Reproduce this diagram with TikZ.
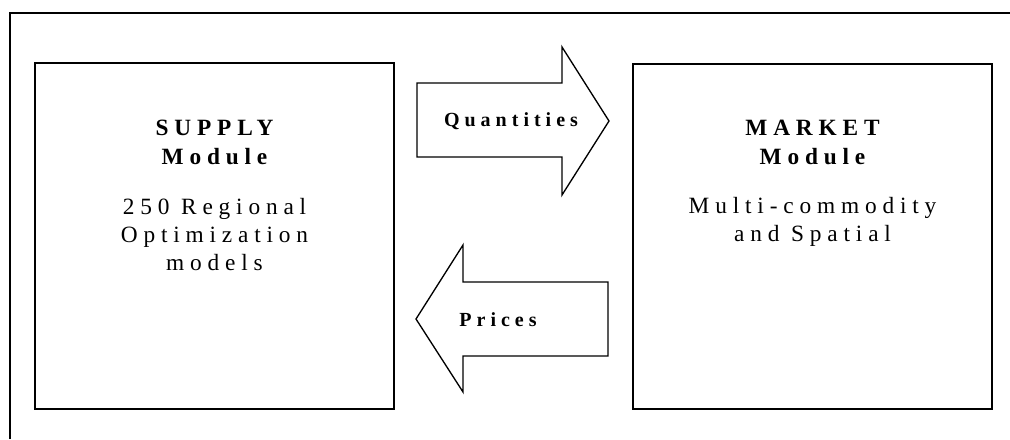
\documentclass[tikz,border=0pt]{standalone}
\usepackage{fontspec}
\setmainfont{Liberation Serif}[LetterSpace=25]
\begin{document}
\begin{tikzpicture}[x=0.75pt,y=-0.75pt,
  box/.style={draw, line width=1.4pt, rectangle, inner sep=0pt},
  arrowshape/.style={draw, line width=1pt, line join=miter},
  headtxt/.style={font=\bfseries\fontsize{17.5}{21.75}\selectfont, align=center, inner sep=0pt},
  bodytxt/.style={font=\fontsize{17.5}{21}\selectfont, align=center, inner sep=0pt},
  labtxt/.style={font=\bfseries\fontsize{15}{18}\selectfont, inner sep=0pt}]
\useasboundingbox (0,0) rectangle (1010,439);
\draw[line width=1.4pt] (10,439) -- (10,13) -- (1010,13);
% boxes
\node[box, minimum width=269.25pt, minimum height=259.5pt] (supply) at (214.5,236) {};
\node[box, minimum width=269.25pt, minimum height=258.75pt] (market) at (812.5,236.5) {};
% texts
\node[headtxt] (supplytitle) at (214.5,142.5) {SUPPLY\\Module};
\node[bodytxt] (supplybody) at (214.5,235) {250 Regional\\Optimization\\models};
\node[headtxt] (markettitle) at (812.5,142.5) {MARKET\\Module};
\node[bodytxt] (marketbody) at (812.5,221.5) {Multi-commodity\\and Spatial};
% arrows
\draw[arrowshape] (417,83) -- (562,83) -- (562,47) -- (609,121) -- (562,195) -- (562,157) -- (417,157) -- cycle;
\draw[arrowshape] (608,282) -- (463,282) -- (463,245) -- (416,319) -- (463,392) -- (463,356) -- (608,356) -- cycle;
\node[labtxt] (quantities) at (511,121) {Quantities};
\node[labtxt] (prices) at (498,320) {Prices};
\end{tikzpicture}
\end{document}
